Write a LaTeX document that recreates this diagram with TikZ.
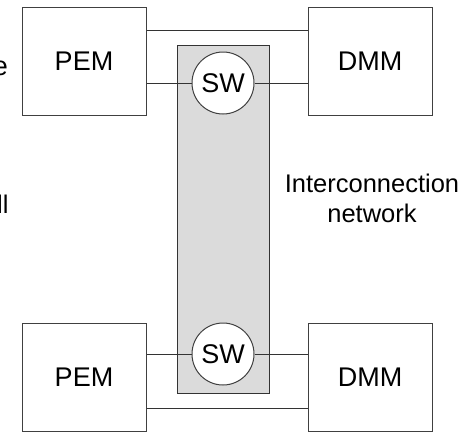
\documentclass[tikz,border=0pt]{standalone}
\usepackage{fontspec}
\setmainfont{Liberation Sans}
\begin{document}
\begin{tikzpicture}[x=1pt,y=-1pt,
  line width=1pt,
  module/.style={draw=black!75, fill=white, minimum width=124pt, minimum height=108pt,
    inner sep=0pt, font=\fontsize{27}{32}\selectfont},
  switch/.style={draw=black!75, fill=white, circle, minimum size=62pt, inner sep=0pt,
    font=\fontsize{27}{32}\selectfont},
  link/.style={draw=black!80, line width=0.9pt},
  lbl/.style={font=\fontsize{25.5}{30}\selectfont, inner sep=0pt}]
  \useasboundingbox (0,0) rectangle (473,434);

  % interconnection network band
  \draw[draw=black!80, fill=black!14] (177,45) rectangle (269,393);

  % processing and memory modules
  \node[module] (pem1) at (84,61) {PEM};
  \node[module] (dmm1) at (370,61) {DMM};
  \node[module] (pem2) at (84,377.5) {PEM};
  \node[module] (dmm2) at (370,377.5) {DMM};

  % switches
  \node[switch] (sw1) at (223,83) {SW};
  \node[switch] (sw2) at (223,354) {SW};

  % routing heights of the direct links
  \coordinate (top) at (223,30);
  \coordinate (bot) at (223,408);

  % direct links
  \draw[link] (pem1.east |- top) -- (dmm1.west |- top);
  \draw[link] (pem2.east |- bot) -- (dmm2.west |- bot);

  % links through the switches
  \draw[link] (pem1.east |- sw1) -- (sw1);
  \draw[link] (sw1) -- (dmm1.west |- sw1);
  \draw[link] (pem2.east |- sw2) -- (sw2);
  \draw[link] (sw2) -- (dmm2.west |- sw2);

  % labels
  \node[lbl, align=center] (net) at (372,198) {Interconnection\\network};
  \node[lbl, anchor=base east, font=\fontsize{27}{32}\selectfont] (lblA) at (8.5,75) {e};
  \node[lbl, anchor=base east] (lblB) at (9,213) {ll};
\end{tikzpicture}
\end{document}
